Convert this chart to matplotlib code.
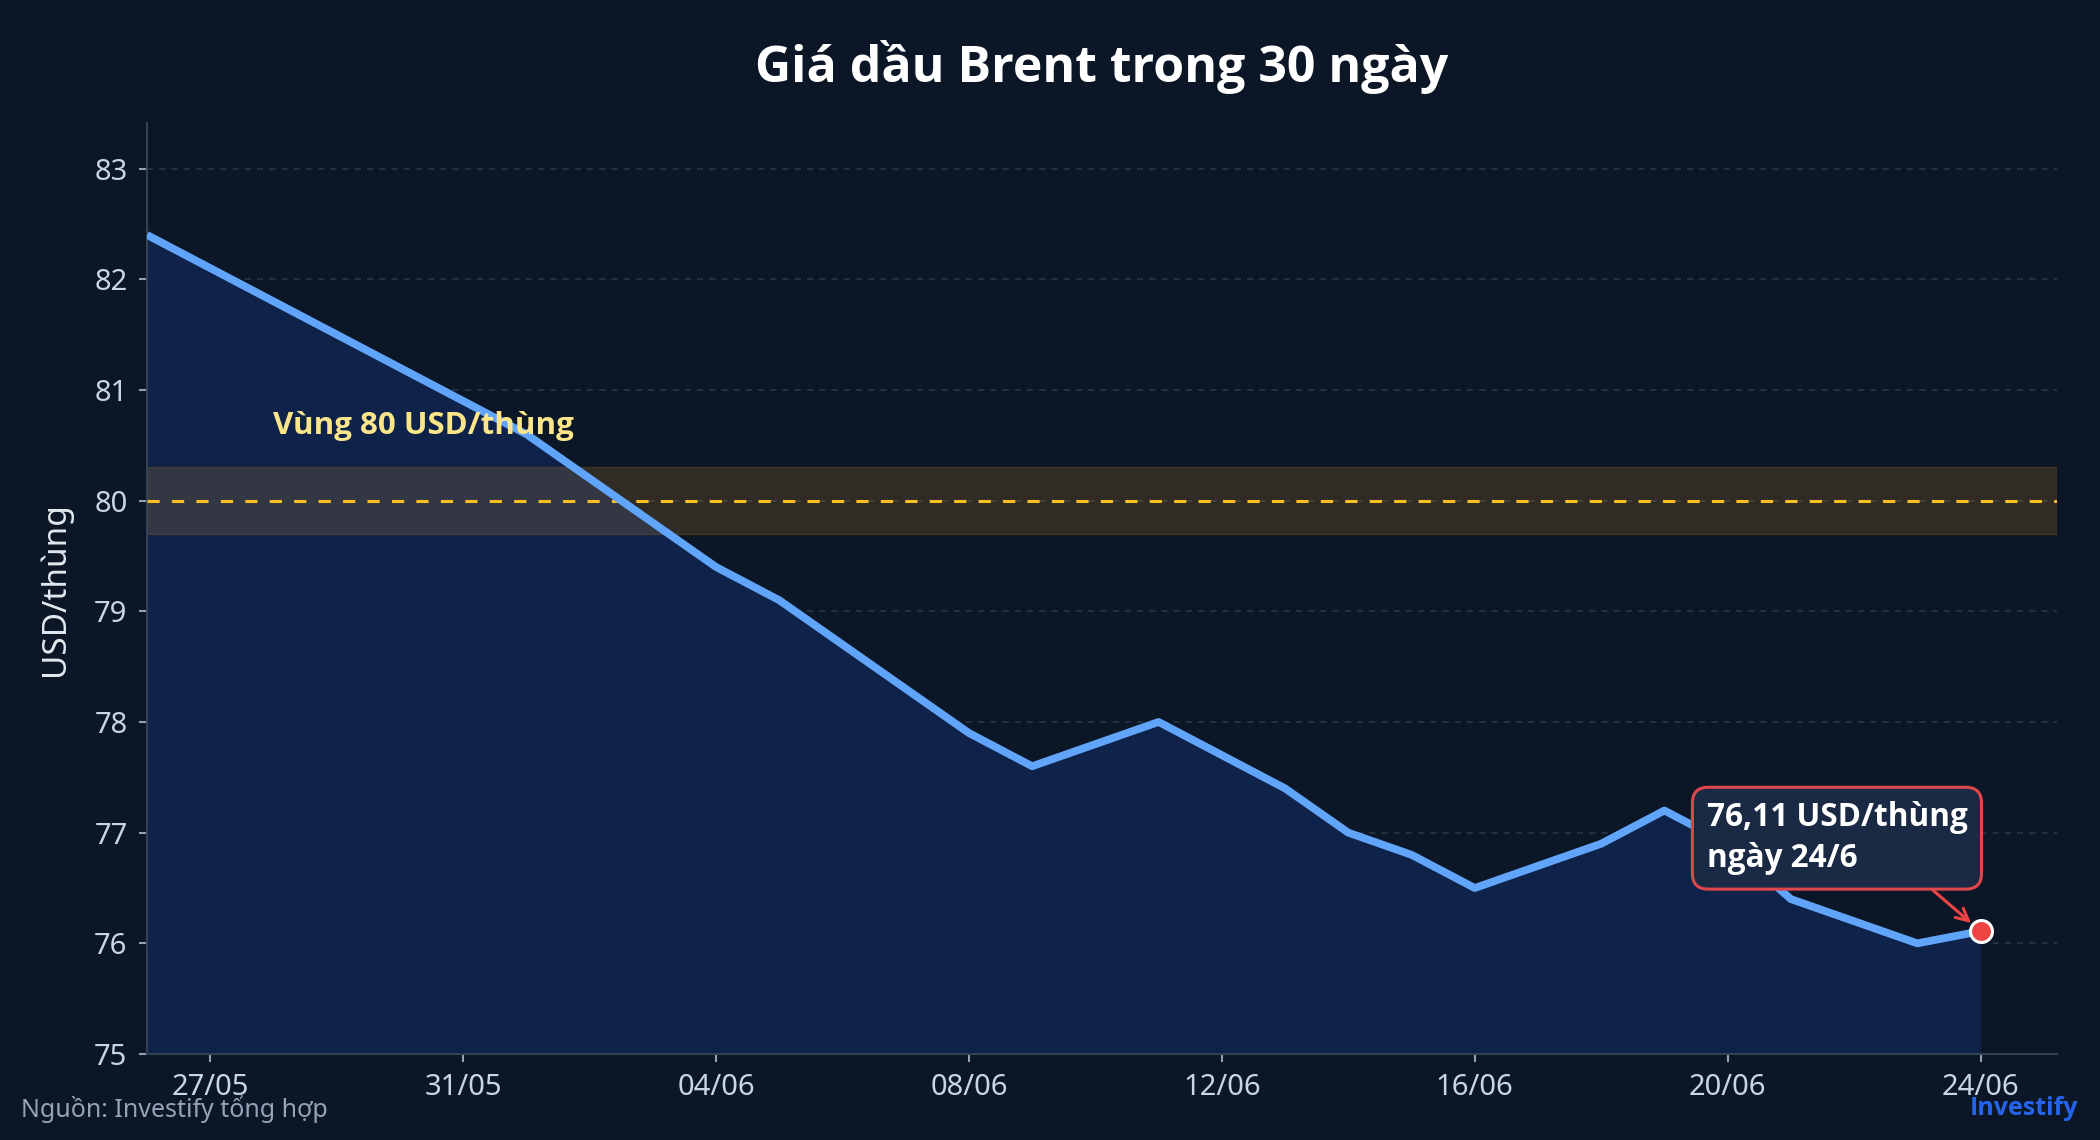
import matplotlib
matplotlib.use("Agg")
import matplotlib.pyplot as plt
import matplotlib.dates as mdates
import pandas as pd
import numpy as np

plt.rcParams['font.family'] = ['Noto Sans', 'DejaVu Sans']
BOLD = ["Open Sans", "DejaVu Sans"]

# ---- data ----
dates = pd.date_range("2024-05-26", "2024-06-24", freq="D")
prices = [82.4, 82.1, 81.8, 81.5, 81.2, 80.9, 80.6, 80.2, 79.8, 79.4,
          79.1, 78.7, 78.3, 77.9, 77.6, 77.8, 78.0, 77.7, 77.4, 77.0,
          76.8, 76.5, 76.7, 76.9, 77.2, 76.9, 76.4, 76.2, 76.0, 76.11]
yticks = [75, 76, 77, 78, 79, 80, 81, 82, 83]
band_low, band_mid, band_high = 79.7, 80.0, 80.3
title = "Giá dầu Brent trong 30 ngày"
ylabel = "USD/thùng"
band_label = "Vùng 80 USD/thùng"
last_label = "76,11 USD/thùng\nngày 24/6"
source = "Nguồn: Investify tổng hợp"
brand = "Investify"

BG = "#0b1626"

fig = plt.figure(figsize=(21, 11.4), dpi=100, facecolor=BG)
ax = fig.add_axes([0.070, 0.0754, 0.9095, 0.8166])
ax.set_facecolor(BG)

ax.fill_between(dates, prices, 75, color="#0f2249", zorder=1, linewidth=0)
ax.axhspan(band_low, band_high, facecolor="#f5a524", alpha=0.16,
           edgecolor="#f59e0b", linewidth=1, zorder=2)
ax.axhline(band_mid, color="#fbbf24", linestyle=(0, (4, 4)), linewidth=2.2, zorder=3)
ax.plot(dates, prices, color="#60a5fa", linewidth=5.6, zorder=4,
        solid_joinstyle="round", solid_capstyle="butt")
ax.scatter([dates[-1]], [prices[-1]], s=250, color="#ef4444",
           edgecolor="white", linewidth=2.2, zorder=6)

ax.set_ylim(75, 83.41)
ax.set_xlim(dates[0], dates[-1] + pd.Timedelta(hours=29))
ax.set_yticks(yticks)
ax.set_xticks(dates[1::4])
ax.xaxis.set_major_formatter(mdates.DateFormatter("%d/%m"))

ax.grid(axis="y", color="#334155", linestyle=(0, (4, 4)), linewidth=1.1, alpha=0.8)
ax.set_axisbelow(True)
for s in ["top", "right"]:
    ax.spines[s].set_visible(False)
for s in ["left", "bottom"]:
    ax.spines[s].set_color("#334155")
    ax.spines[s].set_linewidth(1.5)
ax.tick_params(colors="#cbd5e1", labelsize=21, length=6, width=1.5, pad=8)
ax.tick_params(axis="both", color="#94a3b8")

ax.set_ylabel(ylabel, color="#e2e8f0", fontsize=24, labelpad=16)

fig.text(0.5245, 0.941, title, ha="center", va="center", color="white",
         fontsize=36, fontweight="bold", family=BOLD)

ax.text(dates[2], 80.67, band_label, color="#fde68a", fontsize=22.5,
        fontweight="bold", ha="left", va="center", zorder=7, family=BOLD)

ax.annotate(last_label, xy=(dates[-1], prices[-1]),
            xytext=(dates[24] + pd.Timedelta(hours=16), 76.95),
            ha="left", va="center", color="white", fontsize=22.7, fontweight="bold",
            linespacing=1.3, family=BOLD,
            bbox=dict(boxstyle="round,pad=0.45,rounding_size=0.5", facecolor="#1b2a44",
                      edgecolor="#e0474c", linewidth=2.2),
            arrowprops=dict(arrowstyle="->", color="#ef4444", lw=2.2,
                            relpos=(0.8, 0.0), shrinkA=0, shrinkB=9,
                            mutation_scale=22),
            zorder=8)

fig.text(0.010, 0.028, source, ha="left", va="center", color="#94a3b8", fontsize=18)
fig.text(0.9895, 0.028, brand, ha="right", va="center", color="#2563eb",
         fontsize=18, fontweight="bold", family=BOLD)

fig.savefig("out.png", dpi=100, facecolor=BG)
